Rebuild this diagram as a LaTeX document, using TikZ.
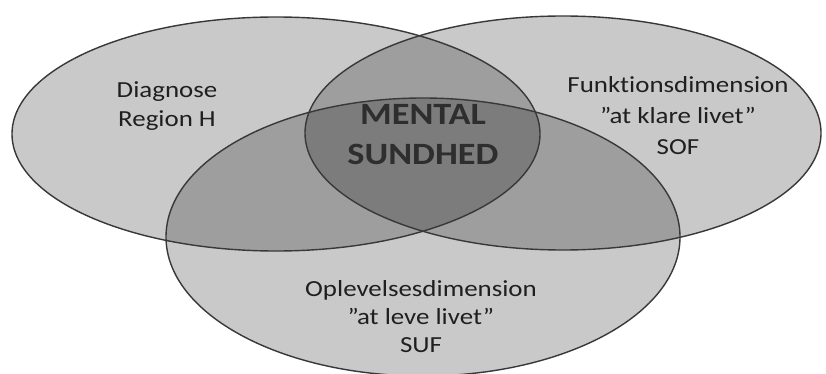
\documentclass[tikz,border=0pt]{standalone}
\usepackage{fontspec}
\setmainfont{Carlito}[Ligatures=NoCommon]
\newfontfamily\stretchfont{Carlito}[FakeStretch=1.17,Ligatures=NoCommon]
\begin{document}
\begin{tikzpicture}[x=1pt,y=-1pt,
  venn/.style={fill=black,fill opacity=0.21,draw=none},
  rim/.style={draw=black!78,line width=1.4pt},
  lbl/.style={align=center,font=\stretchfont\fontsize{23}{29}\selectfont,text=black!88,inner sep=0pt},
  core/.style={align=center,font=\stretchfont\fontsize{31}{40}\selectfont\bfseries,text=black!82,inner sep=0pt}]
\useasboundingbox (0,0) rectangle (826,374);
\fill[white] (0,0) rectangle (826,374);
% fills
\fill[venn] (276,134) ellipse [x radius=264pt, y radius=117pt];
\fill[venn] (563,133) ellipse [x radius=258pt, y radius=117pt];
\fill[venn] (423,237) ellipse [x radius=257pt, y radius=139pt];
% outlines
\draw[rim] (276,134) ellipse [x radius=264pt, y radius=117pt];
\draw[rim] (563,133) ellipse [x radius=258pt, y radius=117pt];
\draw[rim] (423,237) ellipse [x radius=257pt, y radius=139pt];
% texts
\node[lbl] (diag) at (167,106.5) {Diagnose\\Region H};
\node[lbl,font=\stretchfont\fontsize{23}{31}\selectfont] (funk) at (678,115.5) {Funktionsdimension\\”at klare livet”\\SOF};
\node[lbl,font=\stretchfont\fontsize{23}{28}\selectfont] (ople) at (421,316.5) {Oplevelsesdimension\\”at leve livet”\\SUF};
\node[core] (ment) at (423,135) {MENTAL\\SUNDHED};
\end{tikzpicture}
\end{document}
